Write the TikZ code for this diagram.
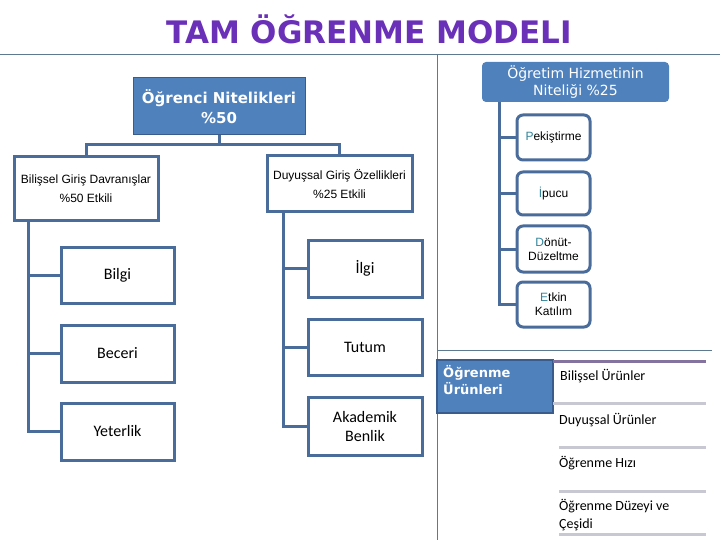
\documentclass[tikz,border=0pt]{standalone}
\usepackage{fontspec}
\setmainfont{Carlito}
\newfontfamily\comicfont{DejaVu Sans}
\newfontfamily\thinfont{Liberation Sans}
\usetikzlibrary{positioning}
\definecolor{tamPurple}{HTML}{6A30B8}
\definecolor{tamBlue}{HTML}{4F81BD}
\definecolor{tamLine}{HTML}{4A6C9B}
\definecolor{tamDark}{HTML}{3A5C8C}
\definecolor{tamRule}{HTML}{5E7A90}
\definecolor{tamTeal}{HTML}{31849B}
\definecolor{tamSep}{HTML}{C8C8D2}
\definecolor{tamMauve}{HTML}{85739F}
\begin{document}
\begin{tikzpicture}[x=1pt,y=-1pt,line join=miter]
\path[fill=white,use as bounding box] (0,0) rectangle (720,540);
\tikzset{conn/.style={draw=tamLine,line width=3pt},box/.style={draw=tamLine,fill=white,line width=3pt,inner sep=0pt,align=center},headbox/.style={fill=tamBlue,text=white,inner sep=0pt,align=center},smallbox/.style={box,rounded corners=6pt,font=\thinfont\fontsize{12}{14}\selectfont},plain/.style={font=\fontsize{16}{19}\selectfont},sep/.style={draw=tamSep,line width=3pt}}
\node[text=tamPurple,font=\comicfont\bfseries\fontsize{31}{36}\selectfont] (title) at (369,29) {TAM ÖĞRENME MODELI};
\draw[tamRule,line width=0.8pt] (0,54) -- (720,54);
\draw[tamRule,line width=0.8pt] (437,54) -- (437,540);
\draw[tamRule,line width=0.8pt] (437,350) -- (712,350);
\node[headbox,draw=tamDark,line width=1pt,minimum width=172pt,minimum height=57pt,font=\comicfont\bfseries\fontsize{15}{20}\selectfont] (ogrenci) at (219,106.5) {Öğrenci Nitelikleri\\\%50};
\node[headbox,rounded corners=4pt,minimum width=187pt,minimum height=40pt,font=\comicfont\fontsize{14}{16.5}\selectfont] (ogretim) at (575.5,82) {Öğretim Hizmetinin\\Niteliği \%25};
\node[box,minimum width=144pt,minimum height=64pt,font=\thinfont\fontsize{12}{19}\selectfont] (bilissel) at (86,189) {Bilişsel Giriş Davranışlar\\\%50 Etkili};
\node[box,minimum width=145pt,minimum height=56pt,font=\thinfont\fontsize{12}{19}\selectfont] (duyussal) at (339.5,184) {Duyuşsal Giriş Özellikleri\\\%25 Etkili};
\draw[conn] (ogrenci.south) -- ++(0,9) coordinate (ojoin);
\draw[conn] (bilissel.north) |- (ojoin) -| (duyussal.north);
\node[box,plain,minimum width=113pt,minimum height=56pt] (bilgi) at (117.5,275) {Bilgi};
\node[box,plain,minimum width=113pt,minimum height=57pt] (beceri) at (117.5,353.5) {Beceri};
\node[box,plain,minimum width=113pt,minimum height=57pt] (yeterlik) at (117.5,431.5) {Yeterlik};
\coordinate (btrunk) at (28,221);
\draw[conn] (btrunk) |- (yeterlik.west);
\draw[conn] (btrunk |- bilgi.west) -- (bilgi.west);
\draw[conn] (btrunk |- beceri.west) -- (beceri.west);
\node[box,plain,minimum width=114pt,minimum height=57pt] (ilgi) at (365,268.5) {İlgi};
\node[box,plain,minimum width=114pt,minimum height=56pt] (tutum) at (365,347) {Tutum};
\node[box,plain,minimum width=114pt,minimum height=58pt] (akademik) at (365,426) {Akademik\\Benlik};
\coordinate (dtrunk) at (283,212);
\draw[conn] (dtrunk) |- (akademik.west);
\draw[conn] (dtrunk |- ilgi.west) -- (ilgi.west);
\draw[conn] (dtrunk |- tutum.west) -- (tutum.west);
\node[smallbox,minimum width=73pt,minimum height=45pt] (pekistirme) at (553.5,137.5) {\textcolor{tamTeal}{P}ekiştirme};
\node[smallbox,minimum width=73pt,minimum height=43pt] (ipucu) at (553.5,193.5) {\textcolor{tamTeal}{İ}pucu};
\node[smallbox,minimum width=73pt,minimum height=46pt] (donut) at (553.5,249) {\textcolor{tamTeal}{D}önüt-\\Düzeltme};
\node[smallbox,minimum width=73pt,minimum height=45pt] (etkin) at (553.5,304.5) {\textcolor{tamTeal}{E}tkin\\Katılım};
\coordinate (otrunk) at (499,102);
\draw[conn] (otrunk) |- (etkin.west);
\draw[conn] (otrunk |- pekistirme.west) -- (pekistirme.west);
\draw[conn] (otrunk |- ipucu.west) -- (ipucu.west);
\draw[conn] (otrunk |- donut.west) -- (donut.west);
\node[headbox,draw=tamDark,line width=2pt,minimum width=116pt,minimum height=53pt] (urunler) at (495,386.5) {};
\node[anchor=north west,text=white,align=left,inner sep=0pt,font=\comicfont\bfseries\fontsize{13}{17}\selectfont] (urunlerlabel) at (443,365) {Öğrenme\\Ürünleri};
\draw[draw=tamMauve,line width=3pt] (553,361) -- (706,361);
\draw[sep] (553,403) -- (706,403);
\draw[sep] (559,447) -- (706,447);
\draw[sep] (559,491) -- (706,491);
\draw[sep] (559,534) -- (706,534);
\node[anchor=west,inner sep=0pt,font=\fontsize{14}{18}\selectfont] (bilurun) at (560,376) {Bilişsel Ürünler};
\node[anchor=west,inner sep=0pt,font=\fontsize{14}{18}\selectfont] (duyurun) at (559,420) {Duyuşsal Ürünler};
\node[anchor=west,inner sep=0pt,font=\fontsize{14}{18}\selectfont] (hiz) at (559,463) {Öğrenme Hızı};
\node[anchor=west,inner sep=0pt,align=left,font=\fontsize{14}{18}\selectfont] (duzey) at (559,515) {Öğrenme Düzeyi ve\\Çeşidi};
\end{tikzpicture}
\end{document}
